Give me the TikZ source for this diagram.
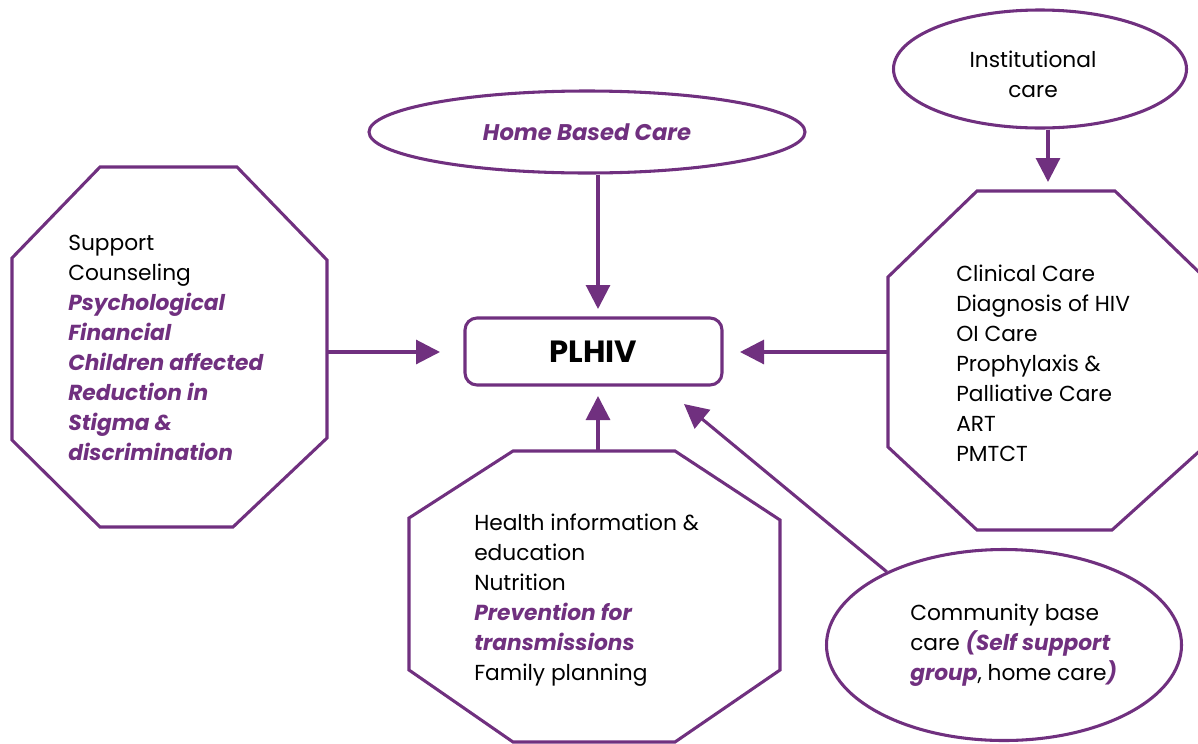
\documentclass[tikz,border=0pt]{standalone}
\usepackage{fontspec}
\setmainfont{Poppins}
\usetikzlibrary{shapes.geometric,arrows.meta,fit}
\definecolor{pur}{HTML}{70307F}
\begin{document}
\begin{tikzpicture}[x=0.75pt,y=-0.75pt,
  arr/.style={draw=pur,line width=2.3pt,-{Triangle[length=18pt,width=18pt]}},
  oct/.style={draw=pur,line width=2.3pt,line join=miter},
  oval/.style={ellipse,draw=pur,line width=2.3pt,inner sep=0pt},
  txt/.style={font=\fontsize{16.3}{22.5}\selectfont,align=left,inner sep=0pt,text=black}]
\useasboundingbox (0,0) rectangle (1198,743);
% PLHIV
\node[draw=pur,line width=2.3pt,rounded corners=9pt,minimum width=257*0.75pt,minimum height=67*0.75pt,font=\fontsize{23}{26}\selectfont\bfseries] (plhiv) at (593.5,351.5) {PLHIV};
% Home based care
\node[oval,minimum width=436*0.75pt,minimum height=82*0.75pt,text=pur,font=\fontsize{17}{20}\selectfont\bfseries\itshape] (home) at (587,132) {Home Based Care};
% Institutional care
\node[oval,minimum width=293*0.75pt,minimum height=118*0.75pt] (inst) at (1040,69) {};
\node[txt,align=center] (insttxt) at (1033,74) {Institutional\\care};
% Community
\node[oval,minimum width=355*0.75pt,minimum height=191*0.75pt] (comm) at (1004,645) {};
\node[txt,anchor=west] (commtxt) at (910,645) {Community base\\care {\bfseries\itshape\color{pur}(Self support}\\{\bfseries\itshape\color{pur}group}, home care{\bfseries\itshape\color{pur})}};
% Left octagon
\draw[oct] (100,167) -- (237,167) -- (327,260) -- (327,438) -- (233,527) -- (100,527) -- (12,440) -- (12,258) -- cycle;
\node[fit={(12,167) (327,527)},inner sep=0pt] (left) {};
\node[txt,anchor=west] (lefttxt) at (68,348) {Support\\Counseling\\{\bfseries\itshape\color{pur}Psychological}\\{\bfseries\itshape\color{pur}Financial}\\{\bfseries\itshape\color{pur}Children affected}\\{\bfseries\itshape\color{pur}Reduction in}\\{\bfseries\itshape\color{pur}Stigma \&}\\{\bfseries\itshape\color{pur}discrimination}};
% Right octagon
\draw[oct] (977,191) -- (1115,191) -- (1204,277) -- (1204,447) -- (1112,530) -- (977,530) -- (888,447) -- (888,277) -- cycle;
\node[fit={(888,191) (1204,530)},inner sep=0pt] (right) {};
\node[txt,anchor=west] (righttxt) at (956,363) {Clinical Care\\Diagnosis of HIV\\OI Care\\Prophylaxis \&\\Palliative Care\\ART\\PMTCT};
% Bottom octagon
\draw[oct] (513,451) -- (675,451) -- (780,520) -- (780,670) -- (675,742) -- (513,742) -- (409,670) -- (409,518) -- cycle;
\node[fit={(409,451) (780,742)},inner sep=0pt] (bottom) {};
\node[txt,anchor=west] (bottomtxt) at (474,600) {Health information \&\\education\\Nutrition\\{\bfseries\itshape\color{pur}Prevention for}\\{\bfseries\itshape\color{pur}transmissions}\\Family planning};
% connectors
\coordinate (ctip) at (684,404);
\draw[arr] (home.south -| 598,0) -- (598,309);
\draw[arr] (left.east |- 0,352) -- (440,352);
\draw[arr] (right.west |- 0,352) -- (740,352);
\draw[arr] (bottom.north -| 598,0) -- (598,396);
\draw[arr] (inst.south -| 1048,0) -- (1048,182);
\draw[arr] (comm.148) -- (ctip);
\end{tikzpicture}
\end{document}
